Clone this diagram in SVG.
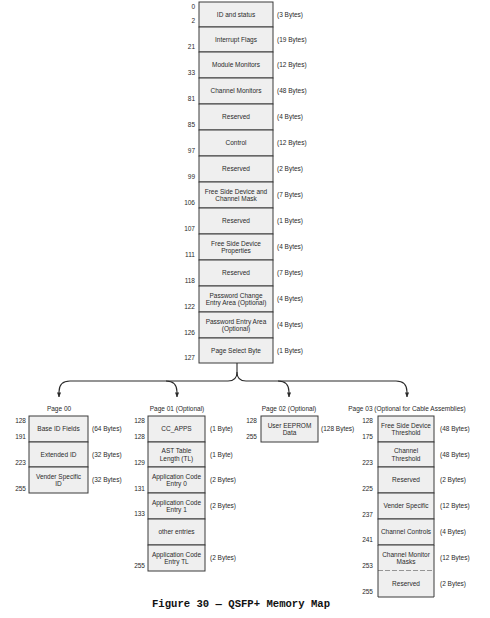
<svg xmlns="http://www.w3.org/2000/svg" width="490" height="618" viewBox="0 0 490 618">
<style>
text{font-family:"Liberation Sans",Arial,sans-serif;font-size:6.5px;fill:#2a2a2a}
.c{text-anchor:middle}
.n{text-anchor:end}
.box{fill:#efefef;stroke:#3a3a3a;stroke-width:1}
.con{fill:none;stroke:#2a2a2a;stroke-width:1.1}
.cap{font-family:"Liberation Mono","Courier New",monospace;font-weight:bold;font-size:10.6px;fill:#111}
</style>
<defs>
<marker id="ah" viewBox="0 0 6 6" refX="5.5" refY="3" markerWidth="5" markerHeight="5" orient="auto" markerUnits="userSpaceOnUse">
<path d="M0,0.5 L6,3 L0,5.5 Z" fill="#2a2a2a"/>
</marker>
</defs>
<rect width="490" height="618" fill="#ffffff"/>

<g id="main">
<g id="m0"><rect class="box" x="199" y="2" width="74" height="25"/><text class="c" x="236" y="16.8">ID and status</text><text x="277" y="16.8">(3 Bytes)</text><text class="n" x="195" y="8.5">0</text><text class="n" x="195" y="22.5">2</text></g>
<g id="m1"><rect class="box" x="199" y="27" width="74" height="25"/><text class="c" x="236" y="41.8">Interrupt Flags</text><text x="277" y="41.8">(19 Bytes)</text><text class="n" x="195" y="49">21</text></g>
<g id="m2"><rect class="box" x="199" y="52" width="74" height="26"/><text class="c" x="236" y="67.3">Module Monitors</text><text x="277" y="67.3">(12 Bytes)</text><text class="n" x="195" y="75">33</text></g>
<g id="m3"><rect class="box" x="199" y="78" width="74" height="26"/><text class="c" x="236" y="93.3">Channel Monitors</text><text x="277" y="93.3">(48 Bytes)</text><text class="n" x="195" y="101">81</text></g>
<g id="m4"><rect class="box" x="199" y="104" width="74" height="26"/><text class="c" x="236" y="119.3">Reserved</text><text x="277" y="119.3">(4 Bytes)</text><text class="n" x="195" y="127">85</text></g>
<g id="m5"><rect class="box" x="199" y="130" width="74" height="26"/><text class="c" x="236" y="145.3">Control</text><text x="277" y="145.3">(12 Bytes)</text><text class="n" x="195" y="153">97</text></g>
<g id="m6"><rect class="box" x="199" y="156" width="74" height="26"/><text class="c" x="236" y="171.3">Reserved</text><text x="277" y="171.3">(2 Bytes)</text><text class="n" x="195" y="179">99</text></g>
<g id="m7"><rect class="box" x="199" y="182" width="74" height="26"/><text class="c" x="236" y="193.5">Free Side Device and</text><text class="c" x="236" y="201">Channel Mask</text><text x="277" y="197.3">(7 Bytes)</text><text class="n" x="195" y="205">106</text></g>
<g id="m8"><rect class="box" x="199" y="208" width="74" height="26"/><text class="c" x="236" y="223.3">Reserved</text><text x="277" y="223.3">(1 Bytes)</text><text class="n" x="195" y="231">107</text></g>
<g id="m9"><rect class="box" x="199" y="234" width="74" height="26"/><text class="c" x="236" y="245.5">Free Side Device</text><text class="c" x="236" y="253">Properties</text><text x="277" y="249.3">(4 Bytes)</text><text class="n" x="195" y="257">111</text></g>
<g id="m10"><rect class="box" x="199" y="260" width="74" height="26"/><text class="c" x="236" y="275.3">Reserved</text><text x="277" y="275.3">(7 Bytes)</text><text class="n" x="195" y="283">118</text></g>
<g id="m11"><rect class="box" x="199" y="286" width="74" height="26"/><text class="c" x="236" y="297.5">Password Change</text><text class="c" x="236" y="305">Entry Area (Optional)</text><text x="277" y="301.3">(4 Bytes)</text><text class="n" x="195" y="309">122</text></g>
<g id="m12"><rect class="box" x="199" y="312" width="74" height="26"/><text class="c" x="236" y="323.5">Password Entry Area</text><text class="c" x="236" y="331">(Optional)</text><text x="277" y="327.3">(4 Bytes)</text><text class="n" x="195" y="335">126</text></g>
<g id="m13"><rect class="box" x="199" y="338" width="74" height="25"/><text class="c" x="236" y="352.8">Page Select Byte</text><text x="277" y="352.8">(1 Bytes)</text><text class="n" x="195" y="360">127</text></g>
</g>

<g id="connectors">
<path class="con" d="M237,363 V372 Q237,381 228,381 H70 Q59,381 59,392 V397" marker-end="url(#ah)"/>
<path class="con" d="M237,372 Q237,381 246,381 H396 Q407,381 407,392 V397" marker-end="url(#ah)"/>
<path class="con" d="M166,381 Q177,381 177,392 V397" marker-end="url(#ah)"/>
<path class="con" d="M278,381 Q289,381 289,392 V397" marker-end="url(#ah)"/>
</g>

<g id="page00">
<text class="c" x="59" y="411">Page 00</text>
<g id="p00a"><rect class="box" x="29" y="416" width="59" height="26"/><text class="c" x="58.5" y="431.3">Base ID Fields</text><text x="92" y="431.3">(64 Bytes)</text><text class="n" x="26" y="422.5">128</text><text class="n" x="26" y="439">191</text></g>
<g id="p00b"><rect class="box" x="29" y="442" width="59" height="25"/><text class="c" x="58.5" y="456.8">Extended ID</text><text x="92" y="456.8">(32 Bytes)</text><text class="n" x="26" y="464.5">223</text></g>
<g id="p00c"><rect class="box" x="29" y="467" width="59" height="26"/><text class="c" x="58.5" y="478.5">Vender Specific</text><text class="c" x="58.5" y="486">ID</text><text x="92" y="482.3">(32 Bytes)</text><text class="n" x="26" y="490.5">255</text></g>
</g>

<g id="page01">
<text class="c" x="177" y="411">Page 01 (Optional)</text>
<g id="p01a"><rect class="box" x="148" y="416" width="57" height="26"/><text class="c" x="176.5" y="431.3">CC_APPS</text><text x="210" y="431.3">(1 Byte)</text><text class="n" x="145" y="422.5">128</text><text class="n" x="145" y="439">128</text></g>
<g id="p01b"><rect class="box" x="148" y="442" width="57" height="25"/><text class="c" x="176.5" y="453">AST Table</text><text class="c" x="176.5" y="460.5">Length  (TL)</text><text x="210" y="456.8">(1 Byte)</text><text class="n" x="145" y="464.5">129</text></g>
<g id="p01c"><rect class="box" x="148" y="467" width="57" height="26"/><text class="c" x="176.5" y="478.5">Application Code</text><text class="c" x="176.5" y="486">Entry 0</text><text x="210" y="482.3">(2 Bytes)</text><text class="n" x="145" y="490.5">131</text></g>
<g id="p01d"><rect class="box" x="148" y="493" width="57" height="26"/><text class="c" x="176.5" y="504.5">Application Code</text><text class="c" x="176.5" y="512">Entry 1</text><text x="210" y="508.3">(2 Bytes)</text><text class="n" x="145" y="516">133</text></g>
<g id="p01e"><rect class="box" x="148" y="519" width="57" height="26"/><text class="c" x="176.5" y="534.3">other entries</text></g>
<g id="p01f"><rect class="box" x="148" y="545" width="57" height="26"/><text class="c" x="176.5" y="556.5">Application Code</text><text class="c" x="176.5" y="564">Entry TL</text><text x="210" y="560.3">(2 Bytes)</text><text class="n" x="145" y="568">255</text></g>
</g>

<g id="page02">
<text class="c" x="289" y="411">Page 02 (Optional)</text>
<g id="p02a"><rect class="box" x="261" y="416" width="57" height="26"/><text class="c" x="289.5" y="427.5">User EEPROM</text><text class="c" x="289.5" y="435">Data</text><text x="321" y="431.3">(128 Bytes)</text><text class="n" x="257" y="422.5">128</text><text class="n" x="257" y="439">255</text></g>
</g>

<g id="page03">
<text class="c" x="407" y="411">Page 03 (Optional for Cable Assemblies)</text>
<g id="p03a"><rect class="box" x="378" y="416" width="56" height="26"/><text class="c" x="406" y="427.5">Free Side Device</text><text class="c" x="406" y="435">Threshold</text><text x="440" y="431.3">(48 Bytes)</text><text class="n" x="373" y="422.5">128</text><text class="n" x="373" y="439">175</text></g>
<g id="p03b"><rect class="box" x="378" y="442" width="56" height="25"/><text class="c" x="406" y="453">Channel</text><text class="c" x="406" y="460.5">Threshold</text><text x="440" y="456.8">(48 Bytes)</text><text class="n" x="373" y="464.5">223</text></g>
<g id="p03c"><rect class="box" x="378" y="467" width="56" height="26"/><text class="c" x="406" y="482.3">Reserved</text><text x="440" y="482.3">(2 Bytes)</text><text class="n" x="373" y="490.5">225</text></g>
<g id="p03d"><rect class="box" x="378" y="493" width="56" height="26"/><text class="c" x="406" y="508.3">Vender Specific</text><text x="440" y="508.3">(12 Bytes)</text><text class="n" x="373" y="516.5">237</text></g>
<g id="p03e"><rect class="box" x="378" y="519" width="56" height="26"/><text class="c" x="406" y="534.3">Channel Controls</text><text x="440" y="534.3">(4 Bytes)</text><text class="n" x="373" y="542">241</text></g>
<g id="p03f"><path d="M378,571 V545 H434 V571" class="box"/><line x1="378" y1="571" x2="434" y2="571" stroke="#3a3a3a" stroke-width="1" stroke-dasharray="5,2"/><text class="c" x="406" y="556.5">Channel Monitor</text><text class="c" x="406" y="564">Masks</text><text x="440" y="560.3">(12 Bytes)</text><text class="n" x="373" y="568" fill="#999">253</text></g>
<g id="p03g"><path d="M378,571 V597 H434 V571" class="box"/><text class="c" x="406" y="586.3">Reserved</text><text x="440" y="586.3">(2 Bytes)</text><text class="n" x="373" y="594">255</text></g>
</g>

<text class="cap" x="241" y="607" text-anchor="middle">Figure 30 — QSFP+ Memory Map</text>
</svg>
